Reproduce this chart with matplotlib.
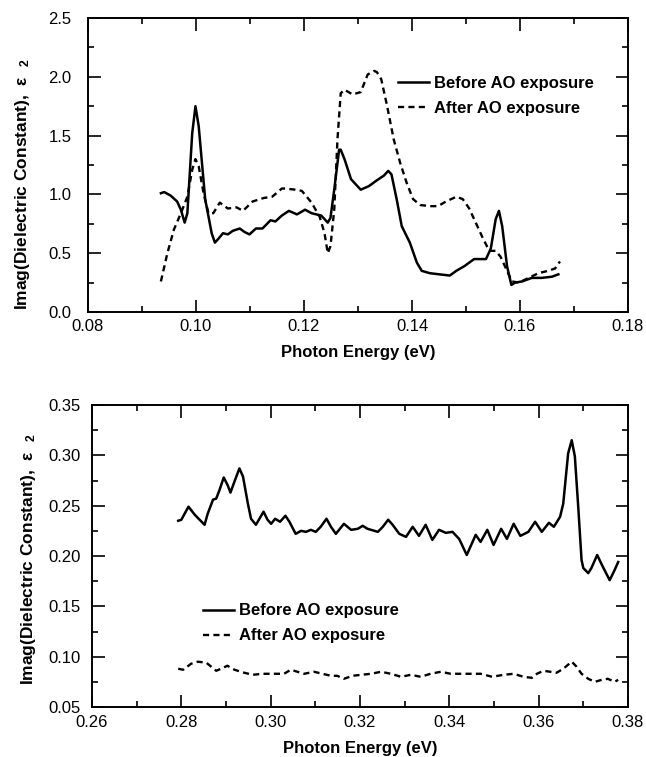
import matplotlib
matplotlib.use("Agg")
import matplotlib.pyplot as plt
from matplotlib.ticker import MultipleLocator, FormatStrFormatter

plt.rcParams['font.family'] = ['Liberation Sans', 'DejaVu Sans']
plt.rcParams['mathtext.fontset'] = 'custom'
plt.rcParams['mathtext.rm'] = 'Liberation Sans'
plt.rcParams['mathtext.bf'] = 'Liberation Sans:bold'
plt.rcParams['mathtext.it'] = 'Liberation Sans:italic'

# ---- top panel data ----
top_before_x = [0.0935, 0.0941, 0.0953, 0.0965, 0.0972, 0.0979, 0.0984, 0.0993, 0.0999, 0.1005,
                0.1017, 0.1029, 0.1035, 0.1041, 0.1050, 0.1059, 0.1068, 0.1081, 0.1090, 0.1099,
                0.1111, 0.1123, 0.1138, 0.1147, 0.1159, 0.1172, 0.1187, 0.1202, 0.1214, 0.1232,
                0.1244, 0.1249, 0.1256, 0.1265, 0.1268, 0.1275, 0.1287, 0.1305, 0.1320, 0.1335,
                0.1348, 0.1356, 0.1362, 0.1372, 0.1381, 0.1396, 0.1409, 0.1418, 0.1433, 0.1451,
                0.1470, 0.1482, 0.1497, 0.1515, 0.1537, 0.1546, 0.1555, 0.1561, 0.1567, 0.1576,
                0.1584, 0.1591, 0.1604, 0.1622, 0.1640, 0.1659, 0.1671]
top_before_y = [1.01, 1.02, 0.99, 0.94, 0.87, 0.76, 0.84, 1.52, 1.75, 1.58,
                0.96, 0.67, 0.59, 0.62, 0.67, 0.66, 0.69, 0.71, 0.68, 0.66,
                0.71, 0.71, 0.78, 0.77, 0.82, 0.86, 0.83, 0.87, 0.84, 0.82,
                0.76, 0.80, 1.04, 1.38, 1.38, 1.30, 1.13, 1.04, 1.07, 1.12,
                1.16, 1.20, 1.17, 0.95, 0.73, 0.59, 0.42, 0.35, 0.33, 0.32,
                0.31, 0.35, 0.39, 0.45, 0.45, 0.54, 0.79, 0.86, 0.73, 0.39,
                0.23, 0.25, 0.26, 0.29, 0.29, 0.30, 0.32]

top_after_x = [0.0935, 0.0947, 0.0959, 0.0972, 0.0984, 0.0993, 0.0999, 0.1005, 0.1014, 0.1023,
               0.1032, 0.1044, 0.1059, 0.1075, 0.1087, 0.1105, 0.1126, 0.1141, 0.1159, 0.1165,
               0.1184, 0.1196, 0.1214, 0.1229, 0.1238, 0.1244, 0.1249, 0.1256, 0.1262, 0.1268,
               0.1275, 0.1290, 0.1305, 0.1318, 0.1330, 0.1335, 0.1343, 0.1354, 0.1366, 0.1378,
               0.1390, 0.1402, 0.1415, 0.1433, 0.1448, 0.1463, 0.1482, 0.1494, 0.1506, 0.1518,
               0.1530, 0.1543, 0.1555, 0.1564, 0.1576, 0.1585, 0.1598, 0.1616, 0.1634, 0.1652,
               0.1665, 0.1674]
top_after_y = [0.26, 0.50, 0.70, 0.84, 0.98, 1.21, 1.30, 1.24, 1.01, 0.84,
               0.84, 0.93, 0.88, 0.89, 0.86, 0.94, 0.97, 0.98, 1.05, 1.05,
               1.04, 1.03, 0.93, 0.81, 0.67, 0.50, 0.56, 0.87, 1.47, 1.86,
               1.89, 1.85, 1.87, 2.02, 2.05, 2.04, 1.98, 1.75, 1.47, 1.27,
               1.10, 0.96, 0.91, 0.90, 0.90, 0.94, 0.98, 0.96, 0.88, 0.76,
               0.64, 0.52, 0.52, 0.47, 0.35, 0.26, 0.25, 0.29, 0.33, 0.35,
               0.37, 0.43]

# ---- bottom panel data ----
bot_before_x = [0.2793, 0.2800, 0.2816, 0.2830, 0.2841, 0.2852, 0.2859, 0.2871, 0.2878, 0.2885,
                0.2895, 0.2904, 0.2910, 0.2919, 0.2930, 0.2938, 0.2949, 0.2956, 0.2967, 0.2984,
                0.2993, 0.3001, 0.3010, 0.3021, 0.3033, 0.3042, 0.3056, 0.3068, 0.3079, 0.3090,
                0.3101, 0.3112, 0.3125, 0.3135, 0.3146, 0.3164, 0.3180, 0.3195, 0.3206, 0.3217,
                0.3240, 0.3251, 0.3263, 0.3273, 0.3288, 0.3303, 0.3318, 0.3332, 0.3347, 0.3362,
                0.3377, 0.3392, 0.3407, 0.3422, 0.3439, 0.3459, 0.3470, 0.3485, 0.3499, 0.3516,
                0.3529, 0.3544, 0.3559, 0.3577, 0.3592, 0.3607, 0.3623, 0.3634, 0.3648, 0.3655,
                0.3666, 0.3674, 0.3681, 0.3689, 0.3696, 0.3700, 0.3711, 0.3718, 0.3731, 0.3744,
                0.3759, 0.3770, 0.3778]
bot_before_y = [0.235, 0.236, 0.249, 0.241, 0.236, 0.231, 0.242, 0.256, 0.257, 0.265,
                0.278, 0.270, 0.263, 0.274, 0.287, 0.279, 0.252, 0.237, 0.231, 0.244,
                0.236, 0.232, 0.237, 0.234, 0.240, 0.234, 0.222, 0.225, 0.224, 0.226,
                0.224, 0.229, 0.237, 0.229, 0.222, 0.232, 0.226, 0.227, 0.230, 0.227,
                0.224, 0.229, 0.236, 0.231, 0.222, 0.219, 0.229, 0.220, 0.231, 0.216,
                0.226, 0.223, 0.224, 0.217, 0.201, 0.221, 0.214, 0.226, 0.211, 0.227,
                0.217, 0.232, 0.220, 0.224, 0.234, 0.224, 0.233, 0.229, 0.239, 0.252,
                0.302, 0.315, 0.299, 0.246, 0.196, 0.188, 0.183, 0.188, 0.201, 0.189,
                0.176, 0.186, 0.194]

bot_after_x = [0.2793, 0.2804, 0.2822, 0.2837, 0.2856, 0.2867, 0.2878, 0.2889, 0.2903, 0.2919,
               0.2941, 0.2960, 0.2982, 0.2997, 0.3016, 0.3030, 0.3045, 0.3060, 0.3075, 0.3097,
               0.3116, 0.3135, 0.3149, 0.3164, 0.3183, 0.3203, 0.3225, 0.3247, 0.3269, 0.3292,
               0.3314, 0.3336, 0.3358, 0.3381, 0.3403, 0.3433, 0.3470, 0.3496, 0.3522, 0.3544,
               0.3566, 0.3585, 0.3596, 0.3611, 0.3626, 0.3640, 0.3655, 0.3674, 0.3685, 0.3696,
               0.3711, 0.3726, 0.3741, 0.3755, 0.3770, 0.3778]
bot_after_y = [0.088, 0.087, 0.093, 0.095, 0.094, 0.090, 0.086, 0.088, 0.091, 0.087,
               0.084, 0.082, 0.083, 0.083, 0.083, 0.083, 0.087, 0.085, 0.083, 0.085,
               0.083, 0.081, 0.081, 0.078, 0.081, 0.082, 0.083, 0.085, 0.083, 0.080,
               0.082, 0.080, 0.083, 0.085, 0.083, 0.083, 0.083, 0.080, 0.082, 0.083,
               0.080, 0.079, 0.083, 0.086, 0.085, 0.084, 0.088, 0.095, 0.090, 0.083,
               0.078, 0.075, 0.077, 0.078, 0.075, 0.077]

labels = ["Before AO exposure", "After AO exposure"]
xlabel = "Photon Energy (eV)"
ylabel = r"Imag(Dielectric Constant),  ε  $_{\mathbf{2}}$"

W, H = 646, 757
fig = plt.figure(figsize=(W / 100, H / 100), dpi=100)

def px_axes(l, t, r, b):
    return fig.add_axes([l / W, 1 - b / H, (r - l) / W, (b - t) / H])

ax1 = px_axes(88, 18, 628, 312)
ax2 = px_axes(92, 405, 628, 707)

DASH = (0, (2.6, 1.8))
FS = 12
YFS = 12.5

for ax, bx, by, axx, ay in [(ax1, top_before_x, top_before_y, top_after_x, top_after_y),
                             (ax2, bot_before_x, bot_before_y, bot_after_x, bot_after_y)]:
    ax.plot(bx, by, color='black', lw=1.8, label=labels[0])
    ax.plot(axx, ay, color='black', lw=1.7, linestyle=DASH, label=labels[1])
    for s in ax.spines.values():
        s.set_linewidth(1.4)
    ax.tick_params(which='both', direction='in', top=True, right=True, width=1.2,
                   labelsize=FS)
    ax.tick_params(which='major', length=9)
    ax.tick_params(which='minor', length=4.5)
    ax.set_xlabel(xlabel, fontsize=FS, fontweight='bold')

ax1.set_xlim(0.08, 0.18)
ax1.set_ylim(0.0, 2.5)
ax1.xaxis.set_major_locator(MultipleLocator(0.02))
ax1.xaxis.set_minor_locator(MultipleLocator(0.01))
ax1.yaxis.set_major_locator(MultipleLocator(0.5))
ax1.yaxis.set_minor_locator(MultipleLocator(0.25))
ax1.xaxis.set_major_formatter(FormatStrFormatter('%.2f'))
ax1.yaxis.set_major_formatter(FormatStrFormatter('%.1f'))
ax1.tick_params(axis='y', pad=12)
ax1.tick_params(axis='x', pad=5)
ax1.xaxis.labelpad = 8
ax1.set_ylabel(ylabel, fontsize=YFS, fontweight='bold')
ax1.yaxis.set_label_coords(-0.103, 0.435)

ax2.set_xlim(0.26, 0.38)
ax2.set_ylim(0.05, 0.35)
ax2.xaxis.set_major_locator(MultipleLocator(0.02))
ax2.xaxis.set_minor_locator(MultipleLocator(0.01))
ax2.yaxis.set_major_locator(MultipleLocator(0.05))
ax2.yaxis.set_minor_locator(MultipleLocator(0.025))
ax2.xaxis.set_major_formatter(FormatStrFormatter('%.2f'))
ax2.yaxis.set_major_formatter(FormatStrFormatter('%.2f'))
ax2.tick_params(axis='y', pad=8)
ax2.tick_params(axis='x', pad=6)
ax2.xaxis.labelpad = 8
ax2.set_ylabel(ylabel, fontsize=YFS, fontweight='bold')
ax2.yaxis.set_label_coords(-0.100, 0.49)

leg_kw = dict(frameon=False, prop={'weight': 'bold', 'size': FS}, handlelength=1.85,
              handletextpad=0.3, labelspacing=0.6, borderpad=0, borderaxespad=0,
              loc='upper left')
ax1.legend(bbox_to_anchor=(0.574, 0.803), **leg_kw)
ax2.legend(bbox_to_anchor=(0.207, 0.343), **leg_kw)

fig.savefig("out.png", dpi=100)
